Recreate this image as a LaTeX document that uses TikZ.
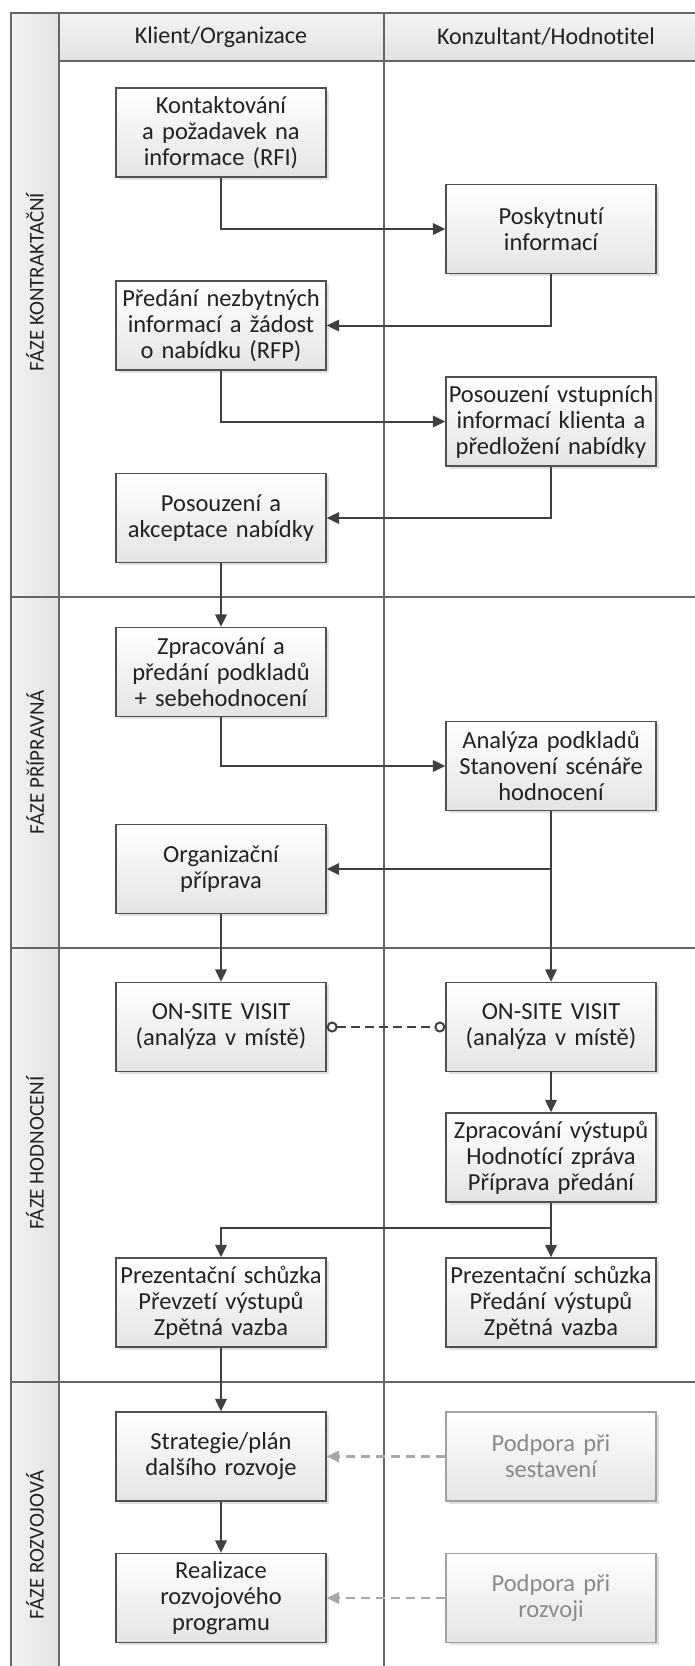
\documentclass[tikz,border=0pt]{standalone}
\usepackage{fontspec}
\setmainfont{Carlito}[Ligatures={NoCommon,NoContextual}]
\usetikzlibrary{arrows.meta,shadows}

\definecolor{frameline}{HTML}{666666}
\definecolor{boxline}{HTML}{505050}
\definecolor{flow}{HTML}{404040}
\definecolor{txt}{HTML}{222222}
\definecolor{soft}{HTML}{A8A8A8}
\definecolor{softline}{HTML}{A0A0A0}
\definecolor{softtxt}{HTML}{8A8A8A}
\definecolor{paneA}{HTML}{F3F3F3}
\definecolor{paneB}{HTML}{E2E2E2}
\definecolor{boxB}{HTML}{E4E4E4}

\tikzset{
  frame/.style={draw=frameline, line width=1.4pt},
  box/.style={draw=boxline, line width=1.3pt, top color=white, bottom color=boxB,
    minimum width=210pt, minimum height=89pt, text width=206pt, align=center,
    inner sep=0pt, text=txt, font=\fontsize{24.5}{26}\selectfont,
    drop shadow={shadow xshift=2.5pt, shadow yshift=-2.5pt, fill=black, opacity=0.12}},
  softbox/.style={box, draw=softline, text=softtxt},
  flowline/.style={draw=flow, line width=2pt, -{Triangle[length=12.5pt,width=11.5pt]}},
  link/.style={draw=flow, line width=2.5pt, dash pattern=on 9pt off 5pt,
    {Circle[open,length=11pt,width=11pt,line width=2pt]}-{Circle[open,length=11pt,width=11pt,line width=2pt]}},
  hint/.style={draw=soft, line width=2.2pt, dash pattern=on 9pt off 6pt,
    -{Triangle[length=12.5pt,width=11.5pt]}},
  lanehead/.style={font=\fontsize{24}{26}\selectfont, text=txt},
  phase/.style={rotate=90, font=\fontsize{21}{24}\selectfont, text=txt}
}

\begin{document}
\begin{tikzpicture}[x=1pt,y=-1pt]
\useasboundingbox (0,0) rectangle (695,1666);
\clip (0,0) rectangle (695,1666);
\fill[white] (0,0) rectangle (695,1666);

% lane header and phase column backgrounds
\shade[left color=paneA, right color=paneB] (11,13) rectangle (59,1690);
\shade[top color=paneA, bottom color=paneB] (59,13) rectangle (710,61);

% grid of lanes and phases
\draw[frame] (11,1690) -- (11,13) -- (710,13);
\draw[frame] (59,13) -- (59,1690);
\draw[frame] (59,61) -- (710,61);
\draw[frame] (384,13) -- (384,1690);
\draw[frame] (11,597) -- (710,597);
\draw[frame] (11,948) -- (710,948);
\draw[frame] (11,1382) -- (710,1382);

\node[lanehead] (laneA) at (221,37) {Klient/Organizace};
\node[lanehead] (laneB) at (546,37) {Konzultant/Hodnotitel};

\node[phase] (ph1) at (35,282) {FÁZE KONTRAKTAČNÍ};
\node[phase] (ph2) at (35,762) {FÁZE PŘÍPRAVNÁ};
\node[phase] (ph3) at (35,1153) {FÁZE HODNOCENÍ};
\node[phase] (ph4) at (35,1545) {FÁZE ROZVOJOVÁ};

% contracting phase
\node[box] (k1) at (221,132.5) {Kontaktování\\a požadavek na\\informace (RFI)};
\node[box] (k2) at (551,229) {Poskytnutí\\informací};
\node[box] (k3) at (221,325.5) {Předání nezbytných\\informací a žádost\\o nabídku (RFP)};
\node[box] (k4) at (551,421.5) {Posouzení vstupních\\informací klienta a\\předložení nabídky};
\node[box] (k5) at (221,518) {Posouzení a\\akceptace nabídky};

% preparation phase
\node[box] (k6) at (221,672) {Zpracování a\\předání podkladů\\+ sebehodnocení};
\node[box] (k7) at (551,766) {Analýza podkladů\\Stanovení scénáře\\hodnocení};
\node[box] (k8) at (221,869) {Organizační\\příprava};

% assessment phase
\node[box] (v9l) at (221,1027) {ON-SITE VISIT\\(analýza v místě)};
\node[box] (v9r) at (551,1027) {ON-SITE VISIT\\(analýza v místě)};
\node[box] (k10) at (551,1157.5) {Zpracování výstupů\\Hodnotící zpráva\\Příprava předání};
\node[box] (p11l) at (221,1302.5) {Prezentační schůzka\\Převzetí výstupů\\Zpětná vazba};
\node[box] (p11r) at (551,1302.5) {Prezentační schůzka\\Předání výstupů\\Zpětná vazba};

% development phase
\node[box] (s12) at (221,1456.5) {Strategie/plán\\dalšího rozvoje};
\node[softbox] (h12) at (551,1456.5) {Podpora při\\sestavení};
\node[box] (s13) at (221,1598) {Realizace\\rozvojového\\programu};
\node[softbox] (h13) at (551,1598) {Podpora při\\rozvoji};

\coordinate (split) at (551,1228);

% flow
\draw[flowline] (k1.south) |- (k2.west);
\draw[flowline] (k2.south) |- (k3.east);
\draw[flowline] (k3.south) |- (k4.west);
\draw[flowline] (k4.south) |- (k5.east);
\draw[flowline] (k5.south) -- (k6.north);
\draw[flowline] (k6.south) |- (k7.west);
\draw[flowline] (k7.south) |- (k8.east);
\draw[flowline] (k7.south) -- (v9r.north);
\draw[flowline] (k8.south) -- (v9l.north);
\draw[link] (v9l.east) -- (v9r.west);
\draw[flowline] (v9r.south) -- (k10.north);
\draw[flowline] (k10.south) -- (p11r.north);
\draw[flowline] (k10.south) -- (split) -| (p11l.north);
\draw[flowline] (p11l.south) -- (s12.north);
\draw[flowline] (s12.south) -- (s13.north);
\draw[hint] (h12.west) -- (s12.east);
\draw[hint] (h13.west) -- (s13.east);
\end{tikzpicture}
\end{document}
